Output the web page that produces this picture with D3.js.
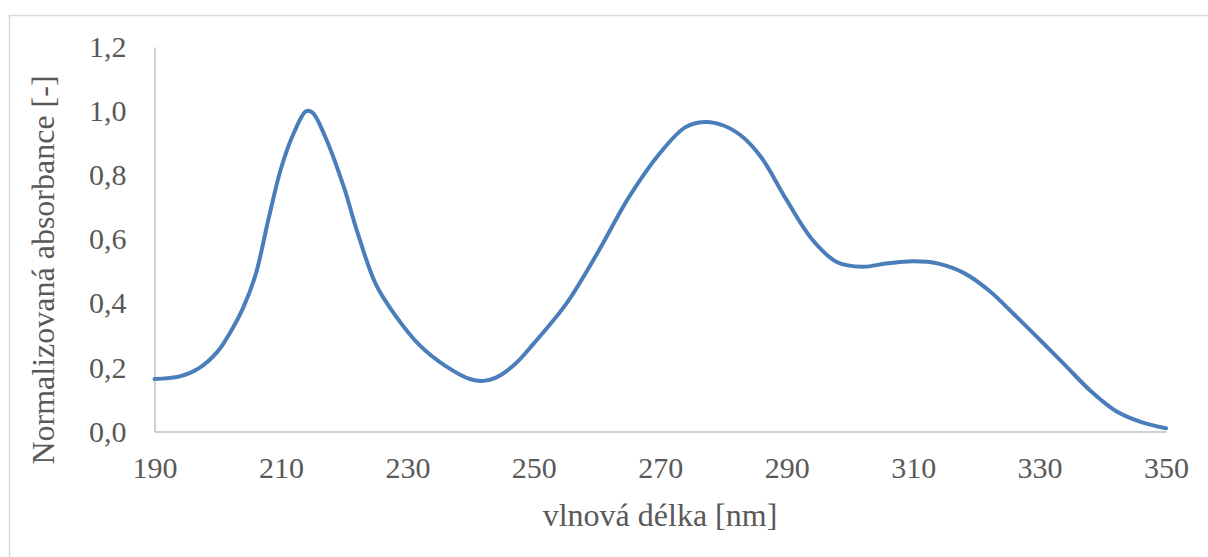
<!DOCTYPE html>
<html>
<head>
<meta charset="utf-8">
<script src="https://cdn.jsdelivr.net/npm/d3@7"></script>
<style>
  html, body { margin: 0; padding: 0; background: #fff; }
  svg { display: block; }
</style>
</head>
<body>
<svg id="chart" width="1208" height="557"></svg>
<script>
// UV absorption spectrum, normalized to the main maximum
const wavelengths = [190, 194, 197, 200, 202, 204, 206, 208, 210, 212, 214, 215, 217, 220, 222, 225, 228, 232, 236, 240, 242, 244, 247, 250, 255, 260, 265, 270, 274, 277, 280, 283, 286, 290, 294, 298, 302, 306, 310, 314, 318, 322, 326, 330, 334, 338, 342, 346, 350];
const absorbance  = [0.164, 0.172, 0.197, 0.250, 0.310, 0.385, 0.490, 0.660, 0.820, 0.930, 1.000, 0.995, 0.920, 0.760, 0.628, 0.460, 0.365, 0.268, 0.205, 0.163, 0.158, 0.168, 0.210, 0.275, 0.395, 0.555, 0.730, 0.870, 0.950, 0.966, 0.955, 0.920, 0.855, 0.722, 0.600, 0.528, 0.514, 0.525, 0.531, 0.524, 0.495, 0.440, 0.365, 0.287, 0.208, 0.128, 0.065, 0.030, 0.010];
const xTicks = [190, 210, 230, 250, 270, 290, 310, 330, 350];
const yTicks = [0, 0.2, 0.4, 0.6, 0.8, 1.0, 1.2];
const xTitle = "vlnová délka [nm]";
const yTitle = "Normalizovaná absorbance [-]";

const FONT = "'Liberation Serif', 'Times New Roman', Times, serif";
const TEXT_COLOR = "#595959";

const svg = d3.select("#chart");

// chart frame
svg.append("rect")
  .attr("x", 9.5).attr("y", 15.5)
  .attr("width", 1220).attr("height", 600)
  .attr("fill", "none").attr("stroke", "#d9d9d9").attr("stroke-width", 1.5);

const plot = { left: 154.5, right: 1166, top: 47, bottom: 431.5 };

const x = d3.scaleLinear().domain([190, 350]).range([plot.left, plot.right]);
const y = d3.scaleLinear().domain([0, 1.2]).range([plot.bottom, plot.top]);

const fmt = d => d3.format(".1f")(d).replace(".", ",");

function styleText(sel, size) {
  sel.style("font-family", FONT)
     .style("font-size", size + "px")
     .style("fill", TEXT_COLOR);
}

// y axis
const yAxis = svg.append("g")
  .attr("transform", `translate(${plot.left},0)`)
  .call(d3.axisLeft(y).tickValues(yTicks).tickFormat(fmt).tickSize(0).tickPadding(28));
yAxis.attr("font-family", null).attr("font-size", null);
yAxis.select(".domain").attr("stroke", "#bfbfbf").attr("stroke-width", 1.5);
styleText(yAxis.selectAll("text"), 30);

// x axis
const xAxis = svg.append("g")
  .attr("transform", `translate(0,${plot.bottom})`)
  .call(d3.axisBottom(x).tickValues(xTicks).tickFormat(d3.format("d")).tickSize(0).tickPadding(25));
xAxis.attr("font-family", null).attr("font-size", null);
xAxis.select(".domain").attr("stroke", "#bfbfbf").attr("stroke-width", 1.5);
styleText(xAxis.selectAll("text"), 30);

// axis titles
styleText(svg.append("text")
  .attr("x", 660).attr("y", 526)
  .attr("text-anchor", "middle")
  .text(xTitle), 32);

styleText(svg.append("text")
  .attr("transform", `translate(54,270) rotate(-90)`)
  .attr("text-anchor", "middle")
  .text(yTitle), 32);

// spectrum line
const line = d3.line()
  .x((d, i) => x(wavelengths[i]))
  .y(d => y(d))
  .curve(d3.curveCatmullRom.alpha(0.5));

svg.append("path")
  .datum(absorbance)
  .attr("d", line)
  .attr("fill", "none")
  .attr("stroke", "#4a7ebb")
  .attr("stroke-width", 4)
  .attr("stroke-linecap", "round")
  .attr("stroke-linejoin", "round");
</script>
</body>
</html>
